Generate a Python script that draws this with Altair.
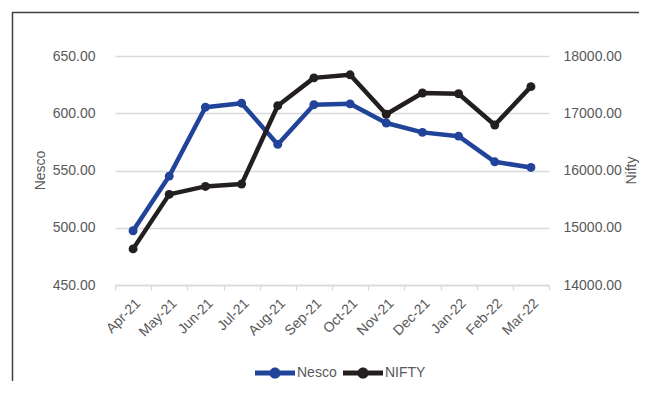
import altair as alt
import pandas as pd

months = ["Apr-21", "May-21", "Jun-21", "Jul-21", "Aug-21", "Sep-21",
          "Oct-21", "Nov-21", "Dec-21", "Jan-22", "Feb-22", "Mar-22"]
nesco = [497.4, 545.1, 605.3, 608.8, 572.8, 607.5, 608.2, 591.5, 583.3, 580.0, 557.6, 552.7]
nifty = [14631, 15583, 15722, 15763, 17132, 17618, 17671, 16983, 17354, 17340, 16794, 17465]
series_names = ["Nesco", "NIFTY"]
left_ticks = [450, 500, 550, 600, 650]
right_ticks = [14000, 15000, 16000, 17000, 18000]

BLUE = "#21449A"
BLACK = "#231F20"
GRAY = "#595959"
GRID = "#D9D9D9"
FONT = "Liberation Sans"

df_n = pd.DataFrame({"month": months, "value": nesco, "series": "Nesco"})
df_f = pd.DataFrame({"month": months, "value": nifty, "series": "NIFTY"})

color_scale = alt.Scale(domain=series_names, range=[BLUE, BLACK])

sym_path = ("M-1,-0.12 L1,-0.12 L1,0.12 L-1,0.12 Z "
            "M0.28,0 A0.28,0.28 0 1,1 -0.28,0 A0.28,0.28 0 1,1 0.28,0 Z")

legend = alt.Legend(
    title=None, orient="none", legendX=140, legendY=297, direction="horizontal",
    symbolType=sym_path, symbolSize=1600, symbolStrokeWidth=0, symbolOpacity=1,
    labelFont=FONT, labelFontSize=14, labelColor=GRAY, labelOffset=2,
    columnPadding=6, padding=0,
)

x_enc = alt.X(
    "month:N", sort=months, bandPosition=0.5,
    scale=alt.Scale(type="band", paddingInner=0, paddingOuter=0),
    axis=alt.Axis(
        title=None, labelAngle=-45, tickBand="extent", grid=False,
        domainColor=GRID, domainWidth=1.3, tickColor=GRID, tickWidth=1.3, tickSize=5,
        labelFont=FONT, labelFontSize=14, labelColor=GRAY, labelPadding=6,
    ),
)

left_axis = alt.Axis(
    title="Nesco", values=left_ticks, format=".2f", grid=True, gridColor=GRID,
    gridWidth=1.3, domain=False, ticks=False, labelPadding=20,
    labelFont=FONT, labelFontSize=14, labelColor=GRAY,
    titleFont=FONT, titleFontSize=14, titleColor=GRAY, titleFontWeight="normal",
    titleX=-75, titleY=114, titleAngle=-90, titleAlign="center", titleBaseline="middle",
)
right_axis = alt.Axis(
    title="Nifty", orient="right", values=right_ticks, format=".2f", grid=False,
    domain=False, ticks=False, labelPadding=14,
    labelFont=FONT, labelFontSize=14, labelColor=GRAY,
    titleFont=FONT, titleFontSize=14, titleColor=GRAY, titleFontWeight="normal",
    titleX=82, titleY=114, titleAngle=-90, titleAlign="center", titleBaseline="middle",
)

def series_layer(df, color, y_scale, axis):
    base = alt.Chart(df).encode(
        x=x_enc,
        y=alt.Y("value:Q", scale=y_scale, axis=axis),
    )
    line = base.mark_line(color=color, strokeWidth=4.5, strokeJoin="round", strokeCap="round")
    pts = base.mark_point(filled=True, size=80, opacity=1).encode(
        color=alt.Color("series:N", scale=color_scale, legend=legend)
    )
    return alt.layer(line, pts)

nesco_layer = series_layer(df_n, BLUE, alt.Scale(domain=[450, 650], nice=False, zero=False), left_axis)
nifty_layer = series_layer(df_f, BLACK, alt.Scale(domain=[14000, 18000], nice=False, zero=False), right_axis)

frame_df = pd.DataFrame({"a": [0]})
frame_top = alt.Chart(frame_df).mark_rule(stroke="#404040", strokeWidth=1.5).encode(
    x=alt.value(-103), x2=alt.value(600), y=alt.value(-43.5)
)
frame_left = alt.Chart(frame_df).mark_rule(stroke="#404040", strokeWidth=1.5).encode(
    x=alt.value(-102.5), y=alt.value(-44), y2=alt.value(400)
)

chart = alt.layer(frame_top, frame_left, nesco_layer, nifty_layer).resolve_scale(
    y="independent"
).properties(
    width=434, height=229,
    autosize=alt.AutoSizeParams(type="none"),
    padding={"left": 107, "top": 48, "right": 90, "bottom": 96},
    background="white",
).configure_view(stroke=None)

chart.save("out.html", embed_options={"renderer": "svg", "actions": False})
